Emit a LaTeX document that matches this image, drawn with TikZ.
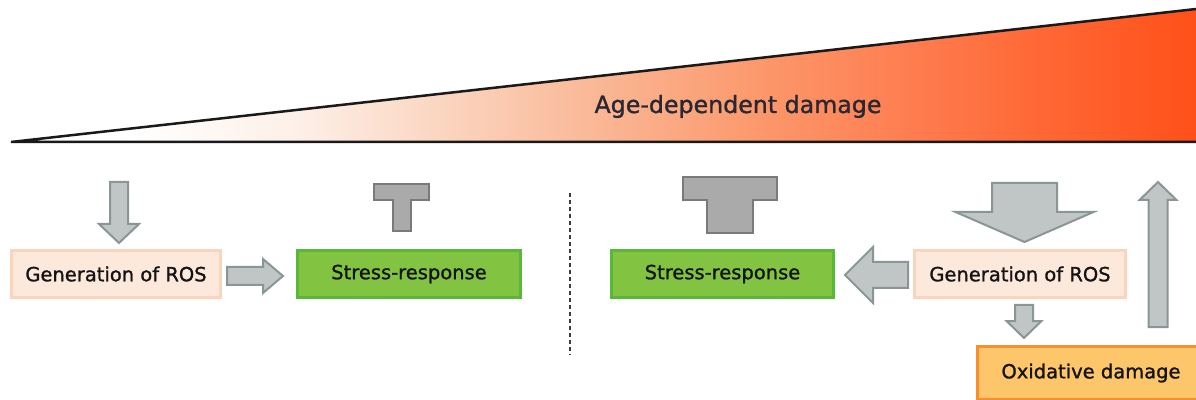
\documentclass[tikz,border=0pt]{standalone}
\usepackage{fontspec}
\setmainfont[FakeBold=1.2]{DejaVu Sans}
\usetikzlibrary{calc}

\definecolor{rosfill}{RGB}{253,233,220}
\definecolor{rosdraw}{RGB}{250,212,188}
\definecolor{srfill}{RGB}{130,196,66}
\definecolor{srdraw}{RGB}{88,184,58}
\definecolor{oxfill}{RGB}{254,198,106}
\definecolor{oxdraw}{RGB}{249,142,44}
\definecolor{arrfill}{RGB}{192,198,198}
\definecolor{arrdraw}{RGB}{138,150,150}
\definecolor{tfill}{RGB}{170,170,170}
\definecolor{tdraw}{RGB}{122,122,122}
\definecolor{txt}{RGB}{20,20,20}
\definecolor{agetxt}{RGB}{40,40,50}
\definecolor{ag1}{RGB}{253,240,232}
\definecolor{ag2}{RGB}{251,214,193}
\definecolor{ag3}{RGB}{250,182,148}
\definecolor{ag4}{RGB}{252,150,105}
\definecolor{ag5}{RGB}{254,125,80}
\definecolor{ag6}{RGB}{255,105,55}
\definecolor{ag7}{RGB}{255,80,25}

\pgfdeclarehorizontalshading{agegrad}{100bp}{color(0bp)=(white); color(30bp)=(white);
  color(37bp)=(ag1); color(43bp)=(ag2); color(50bp)=(ag3); color(57bp)=(ag4);
  color(63bp)=(ag5); color(68bp)=(ag6); color(75bp)=(ag7); color(100bp)=(ag7)}

% freccia larga: da, a, mezzo corpo, mezza punta, lunghezza punta
\newcommand{\fatarrow}[5]{%
  \coordinate (neck) at ($(#2)!#5pt!(#1)$);
  \draw[blockarrow] ($(#1)!#3pt!90:(#2)$) -- ($(neck)!#3pt!90:(#2)$) -- ($(neck)!#4pt!90:(#2)$)
    -- (#2) -- ($(neck)!#4pt!-90:(#2)$) -- ($(neck)!#3pt!-90:(#2)$) -- ($(#1)!#3pt!-90:(#2)$) -- cycle;}

% simbolo di inibizione: base, mezzo gambo, mezza barra, altezza gambo, altezza barra
\newcommand{\tbar}[5]{%
  \draw[inhibit] ($(#1)+(-#2,0)$) -- ++(0,#4) -- ++({#2-#3},0) -- ++(0,#5) -- ++({2*#3},0)
    -- ++(0,-#5) -- ++({#2-#3},0) -- ++(0,-#4) -- cycle;}

\begin{document}
\begin{tikzpicture}[x=1pt,y=1pt,
    box/.style={minimum height=47pt, line width=3pt, inner sep=0pt, text=txt,
      font=\fontsize{19.5}{22}\selectfont},
    ros/.style={box, fill=rosfill, draw=rosdraw},
    sr/.style={box, fill=srfill, draw=srdraw},
    oxbox/.style={box, fill=oxfill, draw=oxdraw, minimum height=53pt},
    blockarrow/.style={fill=arrfill, draw=arrdraw, line width=2pt, line join=miter},
    inhibit/.style={fill=tfill, draw=tdraw, line width=2pt, line join=miter},
    agetext/.style={text=agetxt, font=\fontsize{23.7}{26}\selectfont},
    divider/.style={draw={rgb,255:red,60;green,60;blue,60}, line width=1.5pt, dash pattern=on 4pt off 3pt}]
    \useasboundingbox (0,0) rectangle (1196,399);
    \clip (0,0) rectangle (1196,399);

    % Triangolo del danno
    \coordinate (tip) at (11,257);
    \coordinate (base) at (1196,257);
    \coordinate (top) at (1196,390);
    \shade[shading=agegrad] (tip) -- (base) -- (top) -- cycle;
    \draw[line width=2.5pt, black!90] (base) -- (tip) -- (top);
    \node[agetext, anchor=base] (age) at (738,286) {Age-dependent damage};

    % Nodi
    \node[ros, minimum width=209pt] (ros1) at (116,125) {Generation of ROS};
    \node[sr, minimum width=223pt] (sr1) at (409,125) {Stress-response};
    \node[sr, minimum width=222pt] (sr2) at (722.5,125) {Stress-response};
    \node[ros, minimum width=211pt] (ros2) at (1020,125) {Generation of ROS};
    \node[oxbox, minimum width=227pt] (oxd) at (1091,26) {Oxidative damage};

    % Separatore
    \coordinate (divtop) at (570,206);
    \coordinate (divbot) at (570,44);
    \draw[divider] (divtop) -- (divbot);

    % Estremi delle frecce
    \coordinate (d1s) at (119,217);
    \coordinate (d1e) at ($(ros1.north)+(3,6)$);
    \coordinate (r1s) at ($(ros1.east)+(5,-2)$);
    \coordinate (r1e) at ($(sr1.west)+(-13,-2)$);
    \coordinate (d2s) at (1024.5,216);
    \coordinate (d2e) at ($(ros2.north)+(4.5,7)$);
    \coordinate (l2s) at ($(ros2.west)+(-5,-1)$);
    \coordinate (l2e) at ($(sr2.east)+(10,-1)$);
    \coordinate (d3s) at ($(ros2.south)+(4,-6)$);
    \coordinate (d3e) at ($(oxd.north)+(-67,7)$);
    \coordinate (u1s) at ($(oxd.north)+(67,18)$);
    \coordinate (u1e) at (1158,217);

    % Frecce
    \foreach \a/\b/\bw/\hw/\hl in {d1s/d1e/9/20/19, r1s/r1e/9/17/20, d2s/d2e/32.5/69/30,
        l2s/l2e/13/28/28, d3s/d3e/9/17.5/17, u1s/u1e/9.5/18.5/18} {
            \fatarrow{\a}{\b}{\bw}{\hw}{\hl}
        }

    % Inibizioni
    \coordinate (t1) at ($(sr1.north)+(-7.5,18)$);
    \coordinate (t2) at ($(sr2.north)+(7,16)$);
    \tbar{t1}{9}{27.5}{31}{16}
    \tbar{t2}{23}{47}{33}{23}
\end{tikzpicture}
\end{document}
